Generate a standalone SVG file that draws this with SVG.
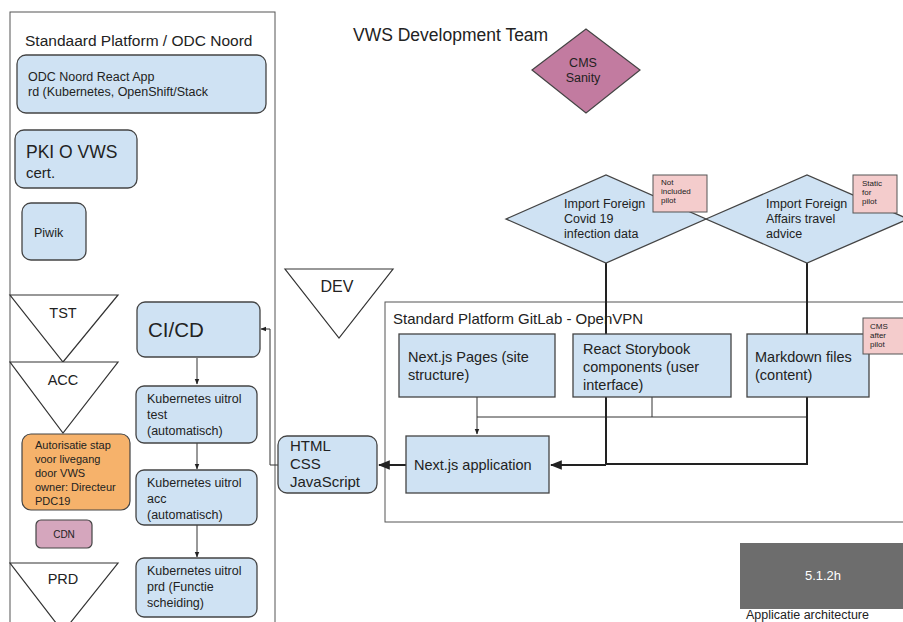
<svg xmlns="http://www.w3.org/2000/svg" width="903" height="622" viewBox="0 0 903 622">
<style>
text{font-family:"Liberation Sans",Arial,sans-serif;fill:#222}
.box{fill:#cfe2f3;stroke:#444;stroke-width:1.3}
.frame{fill:none;stroke:#555;stroke-width:1}
.tri{fill:#fff;stroke:#333;stroke-width:1.2}
.note{fill:#f4cccc;stroke:#555;stroke-width:1}
.ln{fill:none;stroke:#333;stroke-width:1}
.th{fill:none;stroke:#222;stroke-width:2}
.s12{font-size:12.5px}
.s14{font-size:14.5px}
.s15{font-size:15px}
.s8{font-size:8px}
</style>
<defs>
<marker id="ah" viewBox="0 0 10 10" refX="9" refY="5" markerWidth="6" markerHeight="6" orient="auto"><path d="M0,1 L10,5 L0,9 z" fill="#222"/></marker>
</defs>
<rect width="903" height="622" fill="#fff"/>

<g id="left-container">
<rect class="frame" x="10" y="12" width="265" height="620"/>
<text x="25" y="46" style="font-size:15.5px">Standaard Platform / ODC Noord</text>
</g>
<g id="gitlab-container">
<rect class="frame" x="385" y="302" width="530" height="220"/>
<text x="393" y="324" style="font-size:15px">Standard Platform GitLab - OpenVPN</text>
</g>
<g id="title"><text x="353" y="41" style="font-size:17.5px">VWS Development Team</text></g>

<g id="connectors">
<path class="ln" d="M197,358 V384" marker-end="url(#ah)"/>
<path class="ln" d="M197,443 V469" marker-end="url(#ah)"/>
<path class="ln" d="M197,525 V557" marker-end="url(#ah)"/>
<path class="ln" d="M278,465 H270 V329 H261" marker-end="url(#ah)"/>
<path class="th" d="M406,465 H379" marker-end="url(#ah)"/>
<path class="ln" d="M477,397 V417 H807"/>
<path class="ln" d="M477,417 V434" marker-end="url(#ah)"/>
<path class="ln" d="M652,397 V417"/>
<path class="th" d="M606,263 V464 H807 V263"/>
<path class="th" d="M606,465 H551" marker-end="url(#ah)"/>
</g>

<g id="odc-app"><rect class="box" x="17" y="55" width="249" height="58" rx="9"/>
<text x="28" y="81" style="font-size:12.5px">ODC Noord React App</text>
<text x="28" y="96" style="font-size:12.5px">rd (Kubernetes, OpenShift/Stack</text></g>
<g id="pki"><rect class="box" x="15" y="130" width="122" height="58" rx="9"/>
<text x="26" y="158" style="font-size:17.5px">PKI O VWS</text>
<text x="26" y="178" class="s15">cert.</text></g>
<g id="piwik"><rect class="box" x="22" y="203" width="64" height="57" rx="9"/>
<text x="34" y="237" class="s12">Piwik</text></g>

<g id="tst"><path class="tri" d="M10,295 H118 L63,362 Z"/><text x="63" y="318" text-anchor="middle" class="s14">TST</text></g>
<g id="acc"><path class="tri" d="M10,362 H118 L63,433 Z"/><text x="63" y="385" text-anchor="middle" class="s14">ACC</text></g>
<g id="prd"><path class="tri" d="M10,563 H118 L63,632 Z"/><text x="63" y="584" text-anchor="middle" class="s14">PRD</text></g>
<g id="dev"><path class="tri" d="M285,269 H393 L339,338 Z"/><text x="337" y="292" text-anchor="middle" style="font-size:16px">DEV</text></g>

<g id="autorisatie"><rect x="22" y="434" width="108" height="76" rx="9" fill="#f6b26b" stroke="#444" stroke-width="1.2"/>
<g style="font-size:11px"><text x="35" y="449">Autorisatie stap</text><text x="35" y="463">voor livegang</text><text x="35" y="477">door VWS</text><text x="35" y="491">owner: Directeur</text><text x="35" y="505">PDC19</text></g></g>
<g id="cdn"><rect x="36" y="520" width="56" height="28" rx="5" fill="#d5a6bd" stroke="#444" stroke-width="1.2"/>
<text x="64" y="538" text-anchor="middle" style="font-size:10px">CDN</text></g>

<g id="cicd"><rect class="box" x="137" y="302" width="123" height="55" rx="8"/>
<text x="148" y="337" style="font-size:20.5px">CI/CD</text></g>
<g id="k8s-test"><rect class="box" x="136" y="386" width="121" height="57" rx="8"/>
<text x="147" y="403" class="s12">Kubernetes uitrol</text><text x="147" y="419" class="s12">test</text><text x="147" y="435" class="s12">(automatisch)</text></g>
<g id="k8s-acc"><rect class="box" x="136" y="470" width="121" height="55" rx="8"/>
<text x="147" y="487" class="s12">Kubernetes uitrol</text><text x="147" y="503" class="s12">acc</text><text x="147" y="519" class="s12">(automatisch)</text></g>
<g id="k8s-prd"><rect class="box" x="136" y="558" width="121" height="59" rx="8"/>
<text x="147" y="575" class="s12">Kubernetes uitrol</text><text x="147" y="591" class="s12">prd (Functie</text><text x="147" y="607" class="s12">scheiding)</text></g>

<g id="html"><rect class="box" x="278" y="436" width="99" height="57" rx="9"/>
<text x="290" y="451" class="s15">HTML</text><text x="290" y="469" class="s15">CSS</text><text x="290" y="487" class="s15">JavaScript</text></g>

<g id="nextjs-pages"><rect class="box" x="399" y="334" width="156" height="63"/>
<text x="408" y="362" class="s14">Next.js Pages (site</text><text x="408" y="380" class="s14">structure)</text></g>
<g id="nextjs-app"><rect class="box" x="406" y="436" width="143" height="57"/>
<text x="414" y="470" class="s14">Next.js application</text></g>
<g id="storybook"><rect class="box" x="573" y="334" width="158" height="63"/>
<text x="583" y="354" class="s14">React Storybook</text><text x="583" y="372" class="s14">components (user</text><text x="583" y="390" class="s14">interface)</text></g>
<g id="markdown"><rect class="box" x="747" y="334" width="122" height="63"/>
<text x="755" y="362" class="s14">Markdown files</text><text x="755" y="380" class="s14">(content)</text></g>

<g id="import-covid"><path class="box" d="M506,219 L606,175 L706,219 L606,263 Z"/>
<text x="564" y="208" class="s12">Import Foreign</text><text x="564" y="223" class="s12">Covid 19</text><text x="564" y="238" class="s12">infection data</text></g>
<g id="import-travel"><path class="box" d="M706,219 L807,175 L908,219 L807,263 Z"/>
<text x="766" y="208" class="s12">Import Foreign</text><text x="766" y="223" class="s12">Affairs travel</text><text x="766" y="238" class="s12">advice</text></g>

<g id="note-not-included"><rect class="note" x="653" y="175" width="54" height="37"/>
<g class="s8"><text x="661" y="185">Not</text><text x="661" y="194">included</text><text x="661" y="203">pilot</text></g></g>
<g id="note-static"><rect class="note" x="853" y="175" width="44" height="38"/>
<g class="s8"><text x="862" y="186">Static</text><text x="862" y="195">for</text><text x="862" y="204">pilot</text></g></g>
<g id="note-cms"><rect class="note" x="863" y="318" width="45" height="36"/>
<g class="s8"><text x="870" y="329">CMS</text><text x="870" y="338">after</text><text x="870" y="347">pilot</text></g></g>

<g id="cms-sanity"><path d="M532,70 L586,29 L640,70 L586,113 Z" fill="#c27ba0" stroke="#444" stroke-width="1.2"/>
<text x="583" y="67" text-anchor="middle" class="s12">CMS</text><text x="583" y="82" text-anchor="middle" class="s12">Sanity</text></g>

<g id="label-512h"><rect x="740" y="543" width="163" height="66" fill="#6d6d6d"/>
<text x="823" y="580" text-anchor="middle" style="font-size:13px;fill:#fff">5.1.2h</text>
<text x="746" y="619" style="font-size:12.5px">Applicatie architecture</text></g>
</svg>
